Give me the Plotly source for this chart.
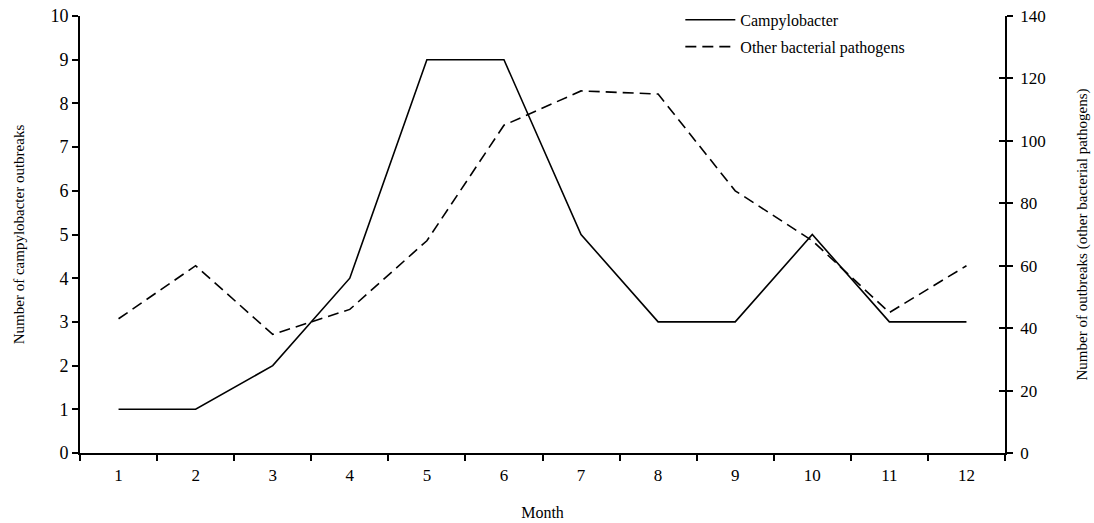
import plotly.graph_objects as go

months = ["1", "2", "3", "4", "5", "6", "7", "8", "9", "10", "11", "12"]
campylobacter = [1, 1, 2, 4, 9, 9, 5, 3, 3, 5, 3, 3]
other_pathogens = [43, 60, 38, 46, 68, 105, 116, 115, 84, 68, 45, 60]

left_ticks = [0, 1, 2, 3, 4, 5, 6, 7, 8, 9, 10]
right_ticks = [0, 20, 40, 60, 80, 100, 120, 140]

FONT = "Liberation Serif"

fig = go.Figure()
fig.add_trace(go.Scatter(
    x=months, y=campylobacter, mode="lines", name="Campylobacter",
    line=dict(color="black", width=1.6), legendgroup="a",
))
fig.add_trace(go.Scatter(
    x=months, y=other_pathogens, mode="lines", name="Other bacterial pathogens",
    line=dict(color="black", width=1.6, dash="11px,6px"), yaxis="y2", legendgroup="b",
))
fig.add_trace(go.Scatter(
    x=months, y=other_pathogens, mode="lines", yaxis="y3", showlegend=False,
    hoverinfo="skip", line=dict(color="rgba(0,0,0,0)", width=0),
))

fig.update_layout(
    width=1094, height=523,
    paper_bgcolor="white", plot_bgcolor="white",
    margin=dict(l=80, r=89, t=16, b=70, autoexpand=False),
    font=dict(family=FONT, color="black", size=15),
    showlegend=True,
    legend=dict(
        x=0.649, y=1.03, xanchor="left", yanchor="top",
        bgcolor="rgba(0,0,0,0)", font=dict(size=16, family=FONT),
        traceorder="grouped", tracegroupgap=3, itemwidth=50,
    ),
    xaxis=dict(
        type="category", range=[-0.5, 11.5], tickson="boundaries",
        ticks="outside", ticklen=6, tickwidth=1.5, tickcolor="black",
        showline=True, linecolor="black", linewidth=1.8, showgrid=False,
        zeroline=False, tickfont=dict(size=17), ticklabelstandoff=6,
        title=dict(text="Month", font=dict(size=16), standoff=23),
    ),
    yaxis=dict(
        range=[0, 10], tickvals=left_ticks, ticks="outside", ticklen=6,
        tickwidth=1.5, tickcolor="black", showline=True, linecolor="black",
        linewidth=1.8, showgrid=False, zeroline=False, tickfont=dict(size=18),
        title=dict(text="Number of campylobacter outbreaks", font=dict(size=15), standoff=22),
    ),
    yaxis2=dict(
        range=[0, 140], tickvals=right_ticks, overlaying="y", side="right",
        ticks="outside", ticklen=6, tickwidth=1.5, tickcolor="black",
        showline=True, linecolor="black", linewidth=1.8, showgrid=False,
        zeroline=False, tickfont=dict(size=17), ticklabelstandoff=4,
        title=dict(text="Number of outbreaks (other bacterial pathogens)", font=dict(size=15), standoff=32),
    ),
    yaxis3=dict(
        range=[0, 140], tickvals=right_ticks, overlaying="y", side="right",
        ticks="inside", ticklen=6, tickwidth=1.5, tickcolor="black",
        showticklabels=False, showline=False, showgrid=False, zeroline=False,
    ),
)

fig.write_html(
    "out.html",
    config={"displayModeBar": False},
    post_script="document.body.style.margin='0';",
)
